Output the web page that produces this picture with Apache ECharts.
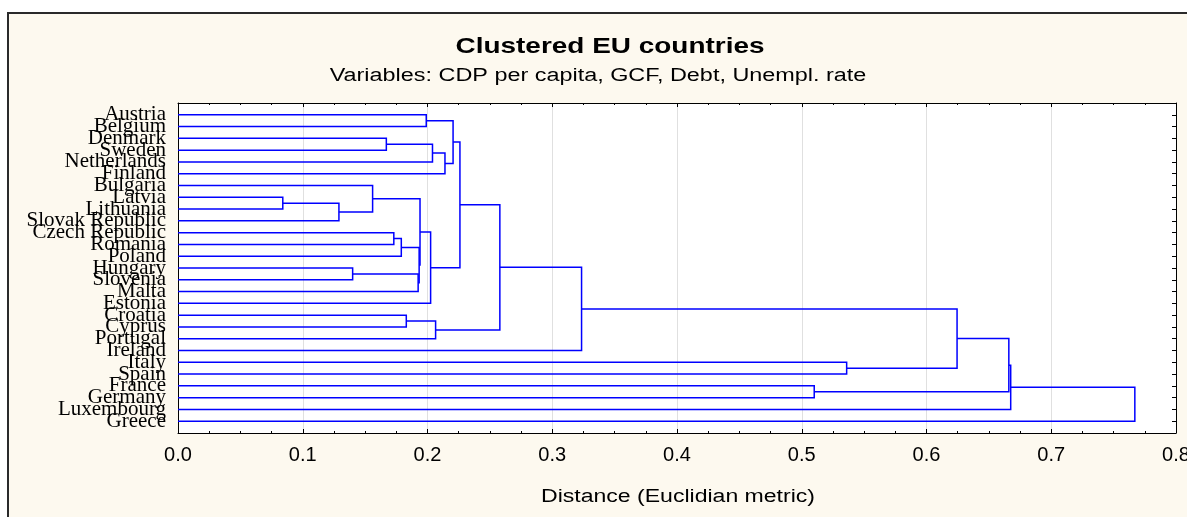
<!DOCTYPE html>
<html lang="en">
<head>
  <meta charset="UTF-8">
  <title>Clustered EU countries</title>
  <style>
    html, body { margin: 0; padding: 0; width: 100%; height: 100%; background: #ffffff; }
    #main { width: 1187px; height: 517px; }
  </style>
</head>
<body>
  <div id="main"></div>
  <script src="https://cdn.jsdelivr.net/npm/echarts@6/dist/echarts.min.js"></script>
  <script type="text/javascript">
    // leaves, top to bottom
    const countries = ['Austria', 'Belgium', 'Denmark', 'Sweden', 'Netherlands', 'Finland',
      'Bulgaria', 'Latvia', 'Lithuania', 'Slovak Republic', 'Czech Republic', 'Romania',
      'Poland', 'Hungary', 'Slovenia', 'Malta', 'Estonia', 'Croatia', 'Cyprus', 'Portugal',
      'Ireland', 'Italy', 'Spain', 'France', 'Germany', 'Luxembourg', 'Greece'];
    // merge k creates node countries.length + k
    const mergeLeft = [7, 27, 13, 6, 2, 10, 32, 17, 29, 33, 30, 0, 37, 31, 34, 40, 38, 43, 44, 45, 23, 21, 46, 49, 50, 51];
    const mergeRight = [8, 9, 14, 28, 3, 11, 12, 18, 15, 35, 36, 1, 16, 4, 19, 5, 42, 39, 41, 20, 24, 22, 48, 47, 25, 26];
    const mergeHeight = [0.084, 0.129, 0.140, 0.156, 0.167, 0.173, 0.179, 0.183, 0.1925, 0.1933, 0.194, 0.199,
      0.2025, 0.204, 0.2065, 0.214, 0.2205, 0.226, 0.258, 0.3235, 0.510, 0.536, 0.6245, 0.666, 0.6675, 0.767];
    const xTicks = ['0.0', '0.1', '0.2', '0.3', '0.4', '0.5', '0.6', '0.7', '0.8'];

    const sans = "'Liberation Sans', Arial, sans-serif";
    const serif = "'Liberation Serif', 'Times New Roman', serif";

    // node position: x = merge height (0 for leaves), y = row (midpoint for clusters)
    const nodeX = countries.map(() => 0);
    const nodeY = countries.map((c, i) => i);
    const links = [];
    mergeLeft.forEach((a, k) => {
      const b = mergeRight[k];
      const h = mergeHeight[k];
      links.push([nodeX[a], nodeY[a], h, nodeY[b], nodeX[b]]);
      nodeX.push(h);
      nodeY.push((nodeY[a] + nodeY[b]) / 2);
    });

    const myChart = echarts.init(document.getElementById('main'));
    const option = {
      backgroundColor: '#ffffff',
      animation: false,
      graphic: [
        {
          type: 'rect', z: -10, silent: true,
          shape: { x: 8, y: 13, width: 1300, height: 600 },
          style: { fill: '#fdf9ef', stroke: '#2a2a2a', lineWidth: 2 }
        },
        {
          type: 'text', x: 610, y: 47, scaleX: 1.27,
          style: { text: 'Clustered EU countries', font: "bold 22px " + sans, fill: '#000',
            textAlign: 'center', textVerticalAlign: 'middle' }
        },
        {
          type: 'text', x: 598, y: 76, scaleX: 1.3,
          style: { text: 'Variables: CDP per capita, GCF, Debt, Unempl. rate', font: "18px " + sans, fill: '#000',
            textAlign: 'center', textVerticalAlign: 'middle' }
        },
        {
          type: 'text', x: 678, y: 497, scaleX: 1.28,
          style: { text: 'Distance (Euclidian metric)', font: "18px " + sans, fill: '#000',
            textAlign: 'center', textVerticalAlign: 'middle' }
        }
      ],
      grid: { left: 178, top: 103, right: 11, bottom: 84, outerBoundsMode: 'none', containLabel: false,
        show: true, backgroundColor: '#ffffff', borderWidth: 0 },
      xAxis: [{
        type: 'value', min: 0, max: 0.8, interval: 0.1, position: 'bottom',
        axisLine: { onZero: false, lineStyle: { color: '#000', width: 1 } },
        axisTick: { inside: true, length: 4, lineStyle: { color: '#000' } },
        minorTick: { show: true, splitNumber: 4, length: 2, lineStyle: { color: '#000' } },
        axisLabel: { margin: 12, fontFamily: sans, fontSize: 20, color: '#000',
          formatter: (v) => xTicks[Math.round(v * 10)] },
        splitLine: { show: true, lineStyle: { color: '#e0e0e0', width: 1 } }
      }, {
        type: 'value', min: 0, max: 0.8, interval: 0.1, position: 'top',
        axisLine: { onZero: false, lineStyle: { color: '#000', width: 1 } },
        axisTick: { inside: true, length: 4, lineStyle: { color: '#000' } },
        minorTick: { show: true, splitNumber: 4, length: 2, lineStyle: { color: '#000' } },
        axisLabel: { show: false },
        splitLine: { show: false }
      }],
      yAxis: [{
        type: 'value', min: -1, max: countries.length, interval: 1, inverse: true, position: 'left',
        axisLine: { show: true, onZero: false, lineStyle: { color: '#000', width: 1 } },
        axisTick: { show: false },
        axisLabel: { margin: 12, fontFamily: serif, fontSize: 21, color: '#000',
          formatter: (v) => countries[v] || '' },
        splitLine: { show: false }
      }, {
        type: 'value', min: -1, max: countries.length, interval: 1, inverse: true, position: 'right',
        axisLine: { show: true, onZero: false, lineStyle: { color: '#000', width: 1 } },
        axisTick: { inside: true, length: 4, lineStyle: { color: '#000' } },
        axisLabel: { show: false },
        splitLine: { show: false }
      }],
      series: [{
        type: 'custom',
        coordinateSystem: 'cartesian2d',
        xAxisIndex: 0,
        yAxisIndex: 0,
        clip: false,
        data: links,
        renderItem: function (params, api) {
          const pts = [
            api.coord([api.value(0), api.value(1)]),
            api.coord([api.value(2), api.value(1)]),
            api.coord([api.value(2), api.value(3)]),
            api.coord([api.value(4), api.value(3)])
          ];
          return {
            type: 'polyline',
            shape: { points: pts },
            style: { stroke: '#0000ff', lineWidth: 1.5, fill: null }
          };
        }
      }]
    };
    myChart.setOption(option);
  </script>
</body>
</html>
